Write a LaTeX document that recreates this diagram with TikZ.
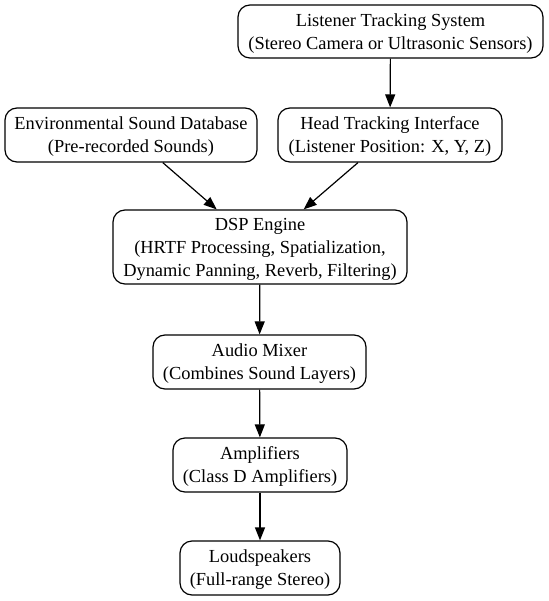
\documentclass[tikz,border=0pt]{standalone}
\usepackage{fontspec}
\setmainfont{Liberation Serif}
\usetikzlibrary{arrows.meta,positioning}

\begin{document}
\begin{tikzpicture}[x=1pt,y=-1pt,line join=round,
  blockbox/.style={draw,rounded corners=12pt,line width=1.2pt,align=center,
    inner sep=0pt,text depth=0pt,font=\fontsize{18.4}{23}\selectfont},
  flow/.style={line width=1.2pt,-{Triangle[length=13pt,width=10pt]}}]
\useasboundingbox (0,0) rectangle (548,601);
% tracking chain on the right, sound source on the left
\node[blockbox,minimum width=305pt,minimum height=53pt] (track) at (390.5,31.5)
  {Listener Tracking System\\(Stereo Camera or Ultrasonic Sensors)};
\node[blockbox,minimum width=252pt,minimum height=54pt] (sounddb) at (131,135)
  {Environmental Sound Database\\(Pre-recorded Sounds)};
\node[blockbox,minimum width=224pt,minimum height=54pt] (headif) at (390,135)
  {Head Tracking Interface\\(Listener Position: X, Y, Z)};
% processing and output stages
\node[blockbox,minimum width=294pt,minimum height=74pt] (dsp) at (260,247)
  {DSP Engine\\(HRTF Processing, Spatialization,\\Dynamic Panning, Reverb, Filtering)};
\node[blockbox,minimum width=213pt,minimum height=54pt] (mixer) at (259.5,362)
  {Audio Mixer\\(Combines Sound Layers)};
\node[blockbox,minimum width=174pt,minimum height=54pt] (amps) at (260,465)
  {Amplifiers\\(Class D Amplifiers)};
\node[blockbox,minimum width=160pt,minimum height=54pt] (speakers) at (260,568)
  {Loudspeakers\\(Full-range Stereo)};
\draw[flow] (track) -- (headif);
\draw[flow] (sounddb) -- (dsp);
\draw[flow] (headif) -- (dsp);
\draw[flow] (dsp) -- (mixer);
\draw[flow] (mixer) -- (amps);
\draw[flow] (amps) -- (speakers);
\end{tikzpicture}
\end{document}
